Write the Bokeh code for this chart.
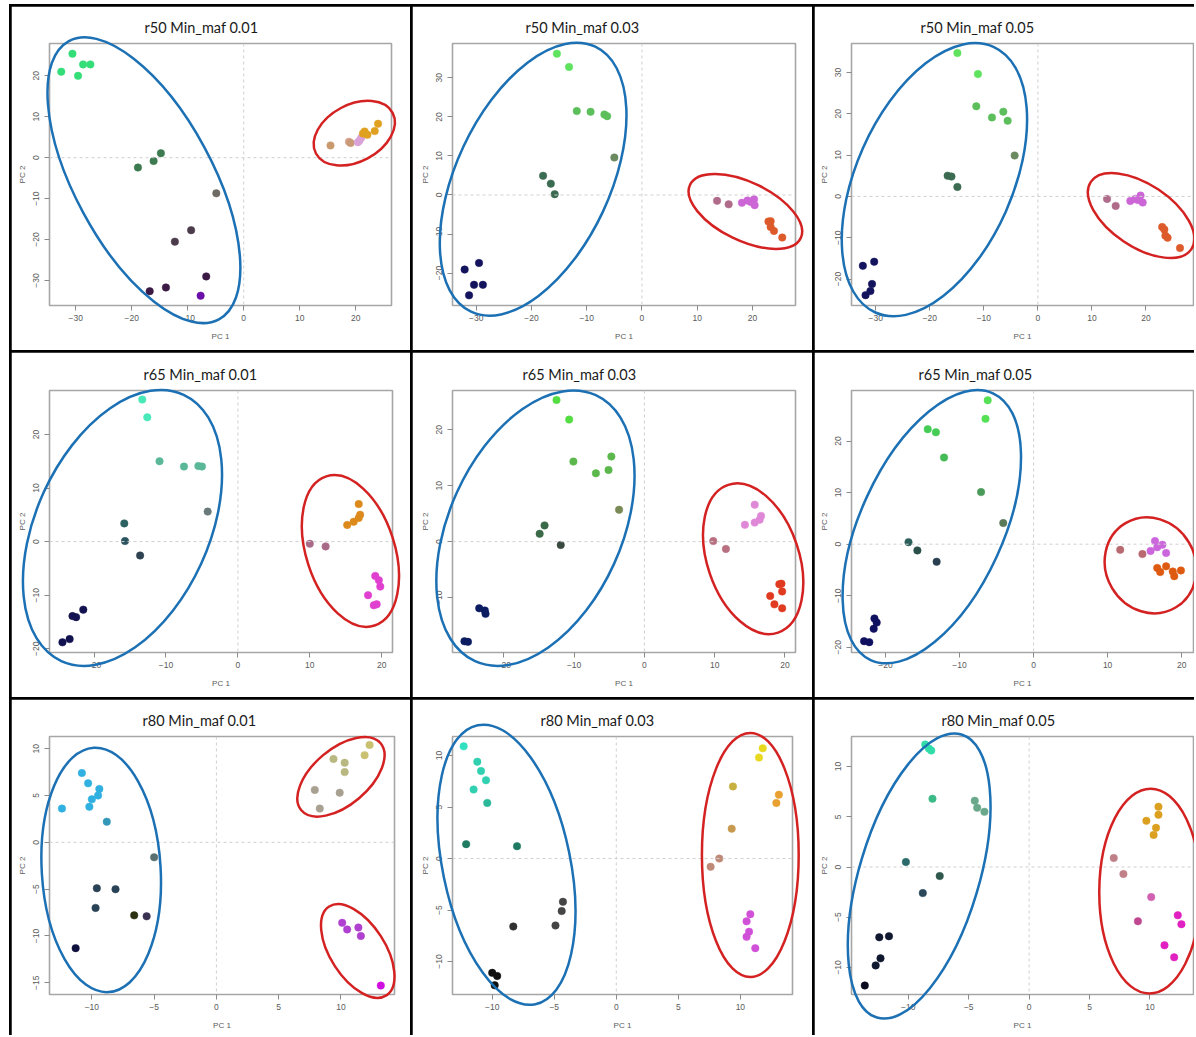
import math
from bokeh.plotting import figure
from bokeh.models import Span, FixedTicker, GridBox
from bokeh.embed import file_html
from bokeh.resources import INLINE

# ---------------- data ----------------
titles = ["r50 Min_maf 0.01", "r50 Min_maf 0.03", "r50 Min_maf 0.05",
          "r65 Min_maf 0.01", "r65 Min_maf 0.03", "r65 Min_maf 0.05",
          "r80 Min_maf 0.01", "r80 Min_maf 0.03", "r80 Min_maf 0.05"]

# r50 Min_maf 0.01
r50_001_pc1 = [-30.6, -32.6, -29.6, -28.7, -27.4, -18.9, -16.1, -14.8, -4.9, -9.4, -12.3,
               -16.8, -13.9, -6.7, -7.7, 15.5, 18.8, 19.1, 20.4, 20.7, 21.0, 21.3, 21.6, 22.1, 23.4, 24.0]
r50_001_pc2 = [25.4, 21.0, 20.0, 22.8, 22.8, -2.4, -0.8, 1.1, -8.7, -17.7, -20.5,
               -32.6, -31.7, -29.0, -33.7, 3.0, 3.9, 3.6, 3.8, 4.2, 4.9, 5.9, 6.4, 5.6, 6.5, 8.3]
r50_001_col = ["#33dd77"] * 5 + ["#3d7a50"] * 3 + ["#6e6a64", "#4b3b4b", "#4b3b4b",
               "#3b1a45", "#3b1a45", "#3b1a45", "#6a0fa8", "#c99a6e", "#d3a08a", "#c99a78",
               "#d9a3d9", "#d9a3d9", "#d9a3d9"] + ["#e0a020"] * 5

# r50 Min_maf 0.03
r50_003_pc1 = [-15.4, -13.2, -11.8, -9.3, -6.8, -6.3, -5.0, -17.9, -16.5, -15.8,
               -32.1, -29.5, -30.4, -28.8, -31.3, 13.6, 15.7, 18.1, 19.1, 19.7, 20.3, 20.4,
               22.9, 23.3, 23.3, 23.9, 25.4]
r50_003_pc2 = [36.2, 32.8, 21.5, 21.3, 20.6, 20.2, 9.6, 4.9, 2.9, 0.2,
               -19.1, -17.4, -23.0, -23.0, -25.7, -1.5, -2.4, -2.0, -1.4, -1.8, -1.1, -2.6,
               -6.8, -6.7, -8.2, -9.2, -10.9]
r50_003_col = ["#5fe35f"] * 2 + ["#5cbf5c"] * 4 + ["#6b8a5f"] + ["#3b6b50"] * 3 + \
              ["#14145e"] * 5 + ["#b06a8a"] * 2 + ["#cc66d6"] * 5 + ["#dd5a2a"] * 5

# r50 Min_maf 0.05
r50_005_pc1 = [-14.9, -11.1, -11.4, -8.5, -6.4, -5.6, -4.3, -16.7, -16.0, -14.9,
               -32.4, -30.3, -30.7, -31.0, -31.9, 12.8, 14.4, 17.1, 18.0, 19.0, 19.4, 18.5,
               23.0, 23.4, 23.6, 24.0, 26.3]
r50_005_pc2 = [34.7, 29.6, 21.8, 19.1, 20.5, 18.3, 9.9, 5.0, 4.8, 2.3,
               -16.8, -15.8, -21.2, -22.9, -23.9, -0.6, -2.3, -1.1, -0.6, 0.2, -1.5, -0.9,
               -7.4, -8.0, -9.5, -10.0, -12.5]
r50_005_col = ["#5fe35f"] * 2 + ["#5cbf5c"] * 4 + ["#6b8a5f"] + ["#3b6b50"] * 3 + \
              ["#14145e"] * 5 + ["#b06a8a"] * 2 + ["#cc66d6"] * 5 + ["#dd5a2a"] * 5

# r65 Min_maf 0.01
r65_001_pc1 = [-13.3, -12.6, -10.9, -7.5, -5.5, -5.0, -4.2, -15.8, -15.7, -13.6,
               -21.5, -23.0, -22.5, -23.4, -24.4, 10.0, 12.2, 15.2, 16.1, 16.8, 16.8, 17.0,
               19.1, 19.6, 19.8, 18.1, 18.9, 19.3]
r65_001_pc2 = [26.5, 23.2, 15.0, 14.0, 14.1, 14.0, 5.6, 3.4, 0.1, -2.6,
               -12.7, -13.9, -14.1, -18.2, -18.8, -0.4, -0.9, 3.1, 3.7, 7.0, 4.4, 5.0,
               -6.4, -7.2, -8.4, -10.0, -11.9, -11.7]
r65_001_col = ["#48e8b8"] * 2 + ["#5ab898"] * 4 + ["#6a7a78", "#2e6262", "#2c5460", "#2f4252"] + \
              ["#121250"] * 5 + ["#a86a86"] * 2 + ["#dd8a1c"] * 5 + ["#e040d0"] * 6

# r65 Min_maf 0.03
r65_003_pc1 = [-12.5, -10.7, -10.1, -4.7, -5.1, -6.9, -3.6, -14.2, -14.9, -11.9,
               -23.5, -22.7, -22.6, -25.6, -25.1, 9.8, 11.6, 14.3, 15.7, 15.7, 16.4, 16.6,
               19.5, 19.6, 17.9, 18.5, 19.6, 19.2]
r65_003_pc2 = [25.3, 21.8, 14.3, 15.2, 12.8, 12.2, 5.7, 2.9, 1.4, -0.6,
               -11.9, -12.3, -12.9, -17.8, -17.9, 0.1, -1.3, 3.0, 6.6, 3.4, 3.9, 4.6,
               -7.5, -8.9, -9.7, -11.2, -11.9, -7.6]
r65_003_col = ["#55dd44"] * 2 + ["#5cb84c"] * 4 + ["#7a8a55", "#3a6a48", "#3a6a48", "#3a4a40"] + \
              ["#0c1c60"] * 5 + ["#b87080"] * 2 + ["#e088d8"] * 5 + ["#e03a20"] * 6

# r65 Min_maf 0.05
r65_005_pc1 = [-6.2, -6.5, -14.3, -13.2, -12.1, -7.1, -4.1, -16.9, -15.7, -13.1,
               -21.5, -21.2, -21.6, -22.9, -22.2, 11.7, 14.7, 15.8, 16.4, 16.7, 17.4, 17.9,
               16.7, 17.1, 17.9, 18.8, 19.0, 19.9]
r65_005_pc2 = [27.9, 24.3, 22.3, 21.7, 16.8, 10.1, 4.1, 0.4, -1.2, -3.4,
               -14.4, -15.2, -16.4, -18.8, -19.0, -1.1, -1.9, -1.3, 0.6, -0.6, -0.1, -1.7,
               -4.6, -5.4, -4.3, -5.3, -6.2, -5.1]
r65_005_col = ["#55e055"] * 2 + ["#44cc55"] * 2 + ["#44bb55", "#4a9a5a", "#5a7a5a",
              "#2c5e5a", "#2a504a", "#2a4050"] + ["#101060"] * 5 + ["#b86a70"] * 2 + \
              ["#cc66dd"] * 5 + ["#dd5a10"] * 6

# r80 Min_maf 0.01
r80_001_pc1 = [-10.8, -12.4, -10.3, -9.4, -9.5, -10.0, -10.2, -8.8, -5.0, -9.6, -8.1, -9.7,
               -6.6, -5.6, -11.3, 12.3, 11.9, 9.4, 10.3, 10.3, 7.9, 9.9, 8.3,
               10.1, 10.5, 11.4, 11.6, 13.2]
r80_001_pc2 = [7.4, 3.6, 6.3, 5.7, 5.0, 4.6, 3.8, 2.2, -1.6, -4.9, -5.0, -7.0,
               -7.8, -7.9, -11.3, 10.4, 9.3, 8.9, 8.5, 7.5, 5.6, 5.3, 3.6,
               -8.6, -9.3, -9.1, -10.0, -15.3]
r80_001_col = ["#30b0e0"] * 7 + ["#3398b8", "#5a7070"] + ["#2a4256"] * 3 + \
              ["#2a3010", "#3a3050", "#10103e"] + ["#c9c070"] * 2 + ["#b8b880"] * 3 + \
              ["#a8a090"] * 3 + ["#b040d0"] * 4 + ["#d010e0"]

# r80 Min_maf 0.03
r80_003_pc1 = [-12.3, -11.2, -10.9, -10.5, -11.5, -10.4, -12.1, -8.0, -4.3, -4.4, -4.9, -8.3,
               -10.0, -9.6, -9.8, 11.8, 11.5, 9.4, 13.1, 12.9, 9.3, 8.3, 7.6,
               10.8, 10.5, 10.7, 10.5, 11.2]
r80_003_pc2 = [10.9, 9.4, 8.5, 7.6, 6.7, 5.4, 1.4, 1.2, -4.2, -5.1, -6.5, -6.6,
               -11.1, -11.4, -12.3, 10.7, 9.8, 7.0, 6.2, 5.4, 2.9, 0.0, -0.8,
               -5.4, -6.1, -7.1, -7.6, -8.7]
r80_003_col = ["#33e0c0"] + ["#30d0b0"] * 4 + ["#2ab898"] + ["#1e7a60"] * 2 + \
              ["#454545"] * 3 + ["#303030"] + ["#101010"] * 3 + ["#e8d820"] * 2 + \
              ["#c8b040"] + ["#e8a030"] * 2 + ["#c89a50"] + ["#c08a78"] * 2 + ["#d050d8"] * 5

# r80 Min_maf 0.05
r80_005_pc1 = [-8.6, -8.3, -8.1, -8.0, -4.5, -4.3, -3.7, -10.2, -7.4, -8.8,
               -11.6, -12.4, -12.3, -12.7, -13.6, 10.7, 10.7, 9.7, 10.5, 10.3,
               7.0, 7.8, 10.1, 9.0, 12.3, 12.6, 11.2, 12.0]
r80_005_pc2 = [12.2, 11.8, 11.6, 6.8, 6.6, 5.9, 5.5, 0.5, -0.9, -2.6,
               -6.9, -7.0, -9.1, -9.8, -11.8, 6.0, 5.2, 4.6, 3.9, 3.2,
               0.9, -0.7, -3.0, -5.4, -4.8, -5.7, -7.8, -9.0]
r80_005_col = ["#33ddaa"] * 3 + ["#3cba88"] + ["#6aa88c"] * 3 + ["#2a6a6a", "#30584e", "#2a485a"] + \
              ["#101830"] * 4 + ["#0a0a20"] + ["#dca020"] * 5 + ["#c08088"] * 2 + \
              ["#d060b0", "#c04890"] + ["#e020c0"] * 4

pc1_list = [r50_001_pc1, r50_003_pc1, r50_005_pc1, r65_001_pc1, r65_003_pc1, r65_005_pc1,
            r80_001_pc1, r80_003_pc1, r80_005_pc1]
pc2_list = [r50_001_pc2, r50_003_pc2, r50_005_pc2, r65_001_pc2, r65_003_pc2, r65_005_pc2,
            r80_001_pc2, r80_003_pc2, r80_005_pc2]
col_list = [r50_001_col, r50_003_col, r50_005_col, r65_001_col, r65_003_col, r65_005_col,
            r80_001_col, r80_003_col, r80_005_col]

# axis limits and tick values
x_limits = [(-34.7, 26.4), (-34.3, 27.8), (-34.5, 28.8),
            (-26.2, 21.5), (-27.3, 21.5), (-24.6, 21.6),
            (-13.4, 14.3), (-13.2, 14.2), (-14.7, 13.6)]
y_limits = [(-36.1, 27.9), (-28.3, 38.8), (-26.4, 37.0),
            (-20.7, 28.2), (-19.8, 27.0), (-21.0, 29.8),
            (-16.25, 11.3), (-13.2, 11.85), (-12.7, 13.0)]
x_ticks = [[-30, -20, -10, 0, 10, 20]] * 3 + [[-20, -10, 0, 10, 20]] * 3 + [[-10, -5, 0, 5, 10]] * 3
y_ticks = [[-30, -20, -10, 0, 10, 20], [-20, -10, 0, 10, 20, 30], [-20, -10, 0, 10, 20, 30],
           [-20, -10, 0, 10, 20], [-10, 0, 10, 20], [-20, -10, 0, 10, 20],
           [-15, -10, -5, 0, 5, 10], [-10, -5, 0, 5, 10], [-10, -5, 0, 5, 10]]

# hand-drawn cluster ovals: (x min, x max, y min, y max, x of topmost point), colour
BLUE, RED = "#1c70b4", "#d42222"
ovals = [
    [((-35.06, -0.6, -40.4, 29.4, -28.4), BLUE), ((12.5, 27.0, -1.9, 13.9, 22.2), RED)],
    [((-36.6, -2.8, -30.9, 39.0, -11.8), BLUE), ((8.45, 29.0, -13.8, 5.4, 13.2), RED)],
    [((-36.3, -2.0, -29.0, 37.1, -11.6), BLUE), ((9.26, 28.95, -14.9, 5.65, 13.7), RED)],
    [((-29.9, -2.2, -23.2, 28.3, -10.7), BLUE), ((8.9, 22.4, -15.9, 12.4, 13.4), RED)],
    [((-29.6, -1.4, -22.2, 27.0, -10.1), BLUE), ((8.35, 22.6, -16.5, 10.4, 13.2), RED)],
    [((-25.8, -1.7, -23.1, 29.9, -7.6), BLUE), ((9.6, 22.0, -13.4, 5.2, 15.3), RED)],
    [((-14.05, -4.45, -16.0, 10.1, -9.7), BLUE), ((6.5, 13.5, 2.75, 11.25, 11.9), RED),
     ((8.4, 14.3, -16.6, -6.6, 9.76), RED)],
    [((-14.4, -3.3, -14.2, 13.0, -10.7), BLUE), ((6.9, 14.7, -11.5, 12.2, 10.8), RED)],
    [((-15.0, -3.2, -15.1, 13.3, -6.2), BLUE), ((5.8, 14.2, -12.6, 7.8, 10.05), RED)],
]

# ---------------- layout ----------------
col_w = [399, 400, 380]
row_h = [344, 345, 336]
# (frame left, frame top, frame width, frame height) inside each panel
frames = [(37, 37, 342, 262), (37, 37, 343, 262), (37, 37, 342, 262),
          (38, 38, 343, 262), (37, 38, 343, 262), (36, 38, 342, 262),
          (38, 37, 345, 258), (40, 37, 340, 258), (36, 37, 342, 258)]
title_offsets = [95, 73, 69, 94, 70, 67, 93, 88, 90]

TICK_FONT = "Liberation Sans"


def add_oval(p, spec, color, xr, yr, fw, fh):
    x0, x1, y0, y1, xtop = spec
    sx = fw / (xr[1] - xr[0])
    sy = fh / (yr[1] - yr[0])
    cx, cy = (x0 + x1) / 2, (y0 + y1) / 2
    W = (x1 - x0) / 2 * sx
    H = (y1 - y0) / 2 * sy
    sxy = (xtop - cx) * sx * H
    sxx, syy = W * W, H * H
    ang = 0.5 * math.atan2(2 * sxy, sxx - syy)
    d = math.sqrt(((sxx - syy) / 2) ** 2 + sxy ** 2)
    a = math.sqrt((sxx + syy) / 2 + d)
    b = math.sqrt(max((sxx + syy) / 2 - d, 1.0))
    p.ellipse(x=[cx], y=[cy], width=[2 * a], height=[2 * b], angle=[ang],
              width_units="screen", height_units="screen",
              fill_color=None, line_color=color, line_width=2.5, level="overlay")


children = []
for i in range(9):
    r, c = divmod(i, 3)
    fl, ft, fw, fh = frames[i]
    p = figure(frame_width=fw, frame_height=fh,
               min_border_left=fl, min_border_top=ft,
               min_border_right=col_w[c] - fl - fw, min_border_bottom=row_h[r] - ft - fh,
               x_range=x_limits[i], y_range=y_limits[i],
               output_backend="svg", toolbar_location=None, title=titles[i],
               background_fill_color="white", border_fill_color="white")
    p.title.align = "left"
    p.title.offset = title_offsets[i]
    p.title.text_font = "Lato"
    p.title.text_font_size = "14.5px"
    p.title.text_font_style = "normal"
    p.title.text_color = "#1a1a1a"
    p.title.standoff = 15

    p.grid.visible = False
    p.outline_line_color = "#a6a6a6"
    p.outline_line_width = 1.6

    for ax, ticks, label in ((p.xaxis[0], x_ticks[i], "PC 1"), (p.yaxis[0], y_ticks[i], "PC 2")):
        ax.ticker = FixedTicker(ticks=ticks)
        ax.axis_label = label
        ax.axis_line_color = None
        ax.major_tick_in = 0
        ax.major_tick_out = 5
        ax.major_tick_line_color = "#8a8a8a"
        ax.minor_tick_line_color = None
        ax.major_label_text_font = TICK_FONT
        ax.major_label_text_font_size = "8.5px"
        ax.major_label_text_color = "#5a5a5a"
        ax.axis_label_text_font = TICK_FONT
        ax.axis_label_text_font_size = "8px"
        ax.axis_label_text_font_style = "normal"
        ax.axis_label_text_color = "#5a5a5a"
    p.xaxis[0].major_label_standoff = 4
    p.xaxis[0].axis_label_standoff = 8
    p.yaxis[0].major_label_standoff = 5
    p.yaxis[0].axis_label_standoff = 4
    p.yaxis[0].major_label_orientation = "vertical"

    for dim in ("width", "height"):
        p.add_layout(Span(location=0, dimension=dim, line_color="#cfcfcf",
                          line_dash="3 3", line_width=1))

    p.scatter(x=pc1_list[i], y=pc2_list[i], size=7.5, fill_color=col_list[i],
              line_color=col_list[i], line_width=0.5)

    for spec, color in ovals[i]:
        add_oval(p, spec, color, x_limits[i], y_limits[i], fw, fh)

    children.append((p, r, c))

grid = GridBox(children=children, spacing=2, margin=(4, 0, 0, 9),
               styles={"background-color": "black", "padding": "2px 0 0 2px"})

open("out.html", "w").write(file_html(grid, INLINE))
